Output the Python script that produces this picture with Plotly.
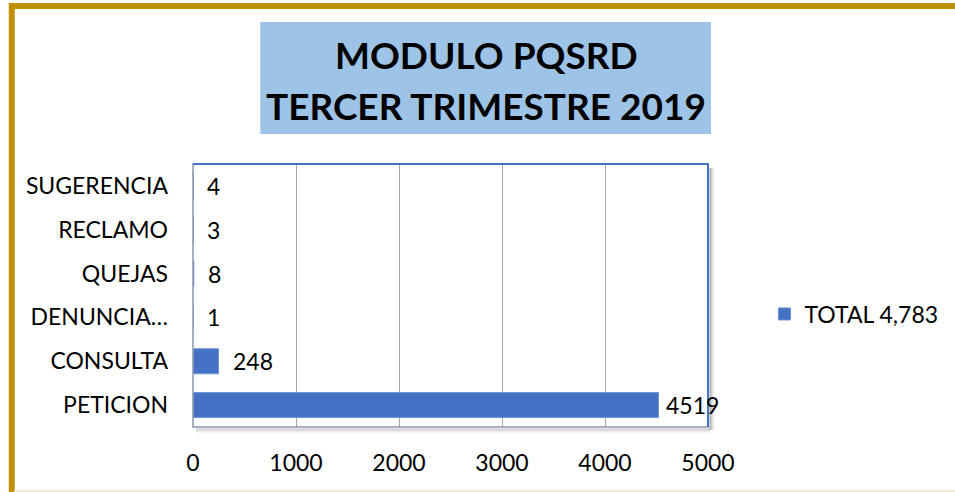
import plotly.graph_objects as go

categories = ["PETICION", "CONSULTA", "DENUNCIA…", "QUEJAS", "RECLAMO", "SUGERENCIA"]
values = [4519, 248, 1, 8, 3, 4]
series_name = "TOTAL 4,783"
title_lines = ["MODULO PQSRD", "TERCER TRIMESTRE 2019"]
x_ticks = [0, 1000, 2000, 3000, 4000, 5000]

W, H = 955, 492
OFF = 0  # body margin removed via post_script
SX0, SX1, SY0, SY1 = 193, 713, 164, 427
L = SX0 - OFF
T = SY0 - OFF
R = W - (SX1 - OFF)
B = H - (SY1 - OFF)
PW, PH = SX1 - SX0, SY1 - SY0

def px(x):
    return (x - SX0) / PW

def py(y):
    return (SY1 - y) / PH

FONT = "Lato"
FS = 23
BAR = "#4472C4"

fig = go.Figure()
fig.add_trace(go.Bar(
    y=categories, x=values, orientation="h", name=series_name,
    marker=dict(color=BAR, line=dict(color="#6F93D6", width=1)),
    width=0.57, showlegend=True,
))

annotations = []
for c, v in zip(categories, values):
    annotations.append(dict(x=v, y=c, xref="x", yref="y", text=str(v),
                            showarrow=False, xanchor="left", yanchor="middle",
                            xshift=12 if v < 1000 else 6,
                            font=dict(family=FONT, size=FS, color="#000000")))
annotations.append(dict(x=px(489), y=py(55), xref="paper", yref="paper",
                        text="<b>%s</b>" % title_lines[0], showarrow=False,
                        xanchor="center", yanchor="middle",
                        font=dict(family=FONT, size=37, color="#000000")))
annotations.append(dict(x=px(489), y=py(106), xref="paper", yref="paper",
                        text="<b>%s</b>" % title_lines[1], showarrow=False,
                        xanchor="center", yanchor="middle",
                        font=dict(family=FONT, size=37, color="#000000")))

shapes = []
shapes.append(dict(type="rect", xref="paper", yref="paper", layer="below",
                   x0=px(261), x1=px(716), y0=py(134), y1=py(22),
                   fillcolor="#9DC3E6", line=dict(width=0)))
shapes.append(dict(type="path", xref="paper", yref="paper",
                   path="M %f %f L %f %f L %f %f" % (px(10), py(500), px(10), py(6), px(970), py(6)),
                   line=dict(color="#C09000", width=6)))
shapes.append(dict(type="line", xref="paper", yref="paper",
                   x0=px(12), x1=px(970), y0=py(491), y1=py(491),
                   line=dict(color="#EDE3C0", width=1.5)))
for i, a in enumerate([0.35, 0.25, 0.16, 0.09, 0.04]):
    shapes.append(dict(type="line", xref="paper", yref="paper",
                       x0=px(715 + i), x1=px(715 + i), y0=py(430), y1=py(168),
                       line=dict(color="rgba(0,0,0,%f)" % a, width=1)))
    shapes.append(dict(type="line", xref="paper", yref="paper",
                       x0=px(196), x1=px(715), y0=py(429 + i), y1=py(429 + i),
                       line=dict(color="rgba(0,0,0,%f)" % (a * 0.6), width=1)))
shapes.append(dict(type="rect", xref="paper", yref="paper",
                   x0=0, x1=1, y0=0, y1=1, line=dict(color="#8A97AD", width=1.5)))
shapes.append(dict(type="path", xref="paper", yref="paper",
                   path="M 0 1 L 1 1 L 1 0",
                   line=dict(color="#4472C4", width=2)))

fig.update_layout(
    width=W, height=H,
    margin=dict(l=L, r=R, t=T, b=B, pad=0),
    paper_bgcolor="white", plot_bgcolor="white",
    font=dict(family=FONT, size=FS, color="#000000"),
    bargap=0.43,
    xaxis=dict(range=[0, 5000], tickvals=x_ticks, ticktext=[str(t) for t in x_ticks],
               showgrid=True, gridcolor="#A6A6A6", gridwidth=1, zeroline=False,
               showline=False, ticks="", ticklabelstandoff=20,
               tickfont=dict(family=FONT, size=FS, color="#000000"), fixedrange=True),
    yaxis=dict(categoryorder="array", categoryarray=categories, showgrid=False,
               zeroline=False, showline=False, ticks="", ticklabelstandoff=24,
               tickfont=dict(family=FONT, size=FS, color="#000000")),
    legend=dict(x=px(770), y=py(314), xanchor="left", yanchor="middle",
                font=dict(family=FONT, size=FS, color="#000000"),
                bgcolor="rgba(0,0,0,0)", itemwidth=30),
    annotations=annotations, shapes=shapes,
)

fig.write_html("out.html", config={"displayModeBar": False},
               post_script="document.body.style.margin='0';document.body.style.padding='0';")
